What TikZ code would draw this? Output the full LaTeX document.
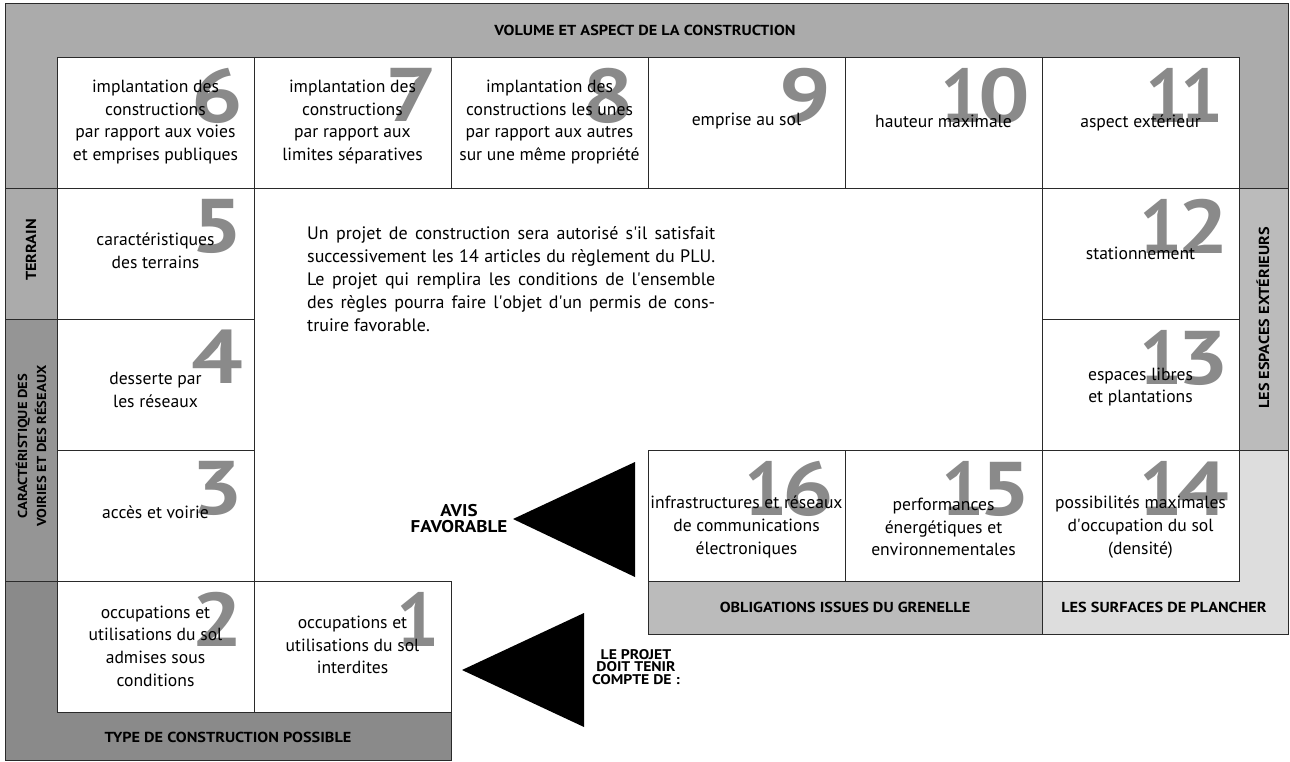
\documentclass[tikz,border=0pt]{standalone}
\usepackage{fontspec}
\setmainfont{PT Sans}
\newfontfamily\hdrfont[FakeStretch=1.12]{PT Sans}
\definecolor{gA}{HTML}{ABABAB}
\definecolor{gB}{HTML}{959595}
\definecolor{gC}{HTML}{8A8A8A}
\definecolor{gD}{HTML}{BBBBBB}
\definecolor{gE}{HTML}{DDDDDD}
\definecolor{numc}{HTML}{8A8A8A}
\definecolor{lnc}{HTML}{2A2A2A}
\newcommand{\bignum}[1]{\scalebox{1.2}[1]{#1}}
\newcommand{\twonum}[1]{1\kern-5pt\scalebox{1.2}[1]{#1}}
\begin{document}
\begin{tikzpicture}[x=1pt,y=-1pt,
  frame/.style={draw=lnc, line width=1pt, anchor=north west, inner sep=0pt},
  cell/.style={draw=lnc, line width=1pt, fill=white, anchor=north west, inner sep=0pt, minimum width=197pt, minimum height=131pt},
  numb/.style={anchor=north east, inner sep=0pt, text=numc, font=\bfseries\fontsize{76}{76}\selectfont},
  txt/.style={align=center, inner sep=0pt, font=\fontsize{17.6}{22.7}\selectfont},
  hdr/.style={align=center, inner sep=0pt, font=\hdrfont\bfseries\fontsize{14.5}{20}\selectfont},
]
\useasboundingbox (0,0) rectangle (1290,762);
% grey frames
\node[frame, fill=gA, minimum width=1283pt, minimum height=185pt] (fvol) at (5,3) {};
\node[frame, fill=gA, minimum width=52pt, minimum height=131pt] (fter) at (5,188) {};
\node[frame, fill=gB, minimum width=52pt, minimum height=262pt] (fvoi) at (5,319) {};
\node[frame, fill=gC, minimum width=446pt, minimum height=179pt] (ftyp) at (5,581) {};
\node[frame, fill=gD, minimum width=49pt, minimum height=262pt] (fesp) at (1239,188) {};
\node[frame, fill=gE, minimum width=246pt, minimum height=184pt] (fsur) at (1042,450) {};
\node[frame, fill=gD, minimum width=394pt, minimum height=184pt] (fgre) at (648,450) {};
% header texts
\node[hdr] (hvol) at (645,30) {VOLUME ET ASPECT DE LA CONSTRUCTION};
\node[hdr, rotate=90] (hter) at (31,250) {TERRAIN};
\node[hdr, rotate=90, font=\hdrfont\bfseries\fontsize{13}{19}\selectfont] (hvoi) at (31,446) {CARACTÉRISTIQUE DES\\VOIRIES ET DES RÉSEAUX};
\node[hdr, rotate=90] (hesp) at (1263,318) {LES ESPACES EXTÉRIEURS};
\node[hdr] (hgre) at (845,607) {OBLIGATIONS ISSUES DU GRENELLE};
\node[hdr] (hsur) at (1164,607) {LES SURFACES DE PLANCHER};
\node[hdr] (htyp) at (228,737) {TYPE DE CONSTRUCTION POSSIBLE};
% cells
\node[cell] (c6) at (57,57) {};
\node[cell] (c7) at (254,57) {};
\node[cell] (c8) at (451,57) {};
\node[cell] (c9) at (648,57) {};
\node[cell] (c10) at (845,57) {};
\node[cell] (c11) at (1042,57) {};
\node[cell] (c5) at (57,188) {};
\node[cell] (c4) at (57,319) {};
\node[cell] (c3) at (57,450) {};
\node[cell] (c12) at (1042,188) {};
\node[cell] (c13) at (1042,319) {};
\node[cell] (c14) at (1042,450) {};
\node[cell] (c16) at (648,450) {};
\node[cell] (c15) at (845,450) {};
\node[cell] (c2) at (57,581) {};
\node[cell] (c1) at (254,581) {};
% numbers
\node[numb] (n6) at (243,68) {\bignum{6}};
\node[numb] (n7) at (437,68) {\bignum{7}};
\node[numb] (n8) at (634,68) {\bignum{8}};
\node[numb] (n9) at (831,68) {\bignum{9}};
\node[numb] (n10) at (1030,68) {\twonum{0}};
\node[numb] (n11) at (1224,68) {1\kern-8pt 1};
\node[numb] (n5) at (243,199) {\bignum{5}};
\node[numb] (n4) at (243,330) {\bignum{4}};
\node[numb] (n3) at (243,461) {\bignum{3}};
\node[numb] (n12) at (1229,199) {\twonum{2}};
\node[numb] (n13) at (1229,330) {\twonum{3}};
\node[numb] (n14) at (1229,461) {\twonum{4}};
\node[numb] (n16) at (834,461) {\twonum{6}};
\node[numb] (n15) at (1031,461) {\twonum{5}};
\node[numb] (n2) at (243,592) {\bignum{2}};
\node[numb] (n1) at (440,592) {1};
% cell texts
\node[txt] (t6) at (155.5,122) {implantation des\\constructions\\par rapport aux voies\\et emprises publiques};
\node[txt] (t7) at (352.5,122) {implantation des\\constructions\\par rapport aux\\limites séparatives};
\node[txt] (t8) at (549.5,122) {implantation des\\constructions les unes\\par rapport aux autres\\sur une même propriété};
\node[txt] (t9) at (746.5,121) {emprise au sol};
\node[txt] (t10) at (943.5,121) {hauteur maximale};
\node[txt] (t11) at (1140.5,123) {aspect extérieur};
\node[txt] (t5) at (155.5,251) {caractéristiques\\des terrains};
\node[txt] (t4) at (155.5,390) {desserte par\\les réseaux};
\node[txt] (t3) at (155.5,512) {accès et voirie};
\node[txt] (t12) at (1140.5,253) {stationnement};
\node[txt] (t13) at (1140.5,387) {espaces libres\\et plantations};
\node[txt] (t14) at (1140.5,527) {possibilités maximales\\d\textquotesingle occupation du sol\\(densité)};
\node[txt] (t16) at (746.5,527) {infrastructures et réseaux\\de communications\\électroniques};
\node[txt] (t15) at (943.5,527) {performances\\énergétiques et\\environnementales};
\node[txt] (t2) at (155.5,646) {occupations et\\utilisations du sol\\admises sous\\conditions};
\node[txt] (t1) at (352.5,645) {occupations et\\utilisations du sol\\interdites};
% paragraph
\node[txt, align=left, anchor=north west, font=\fontsize{18}{23}\selectfont] (para) at (307,226) {%
\makebox[408pt][s]{Un projet de construction sera autorisé s\textquotesingle il satisfait}\\
\makebox[408pt][s]{successivement les 14 articles du règlement du PLU.}\\
\makebox[408pt][s]{Le projet qui remplira les conditions de l\textquotesingle ensemble}\\
\makebox[408pt][s]{des règles pourra faire l\textquotesingle objet d\textquotesingle un permis de cons-}\\
truire favorable.};
% triangles
\coordinate (a1) at (513,519);
\coordinate (a2) at (635,462);
\coordinate (a3) at (635,577);
\fill[black] (a1) -- (a2) -- (a3) -- cycle;
\coordinate (b1) at (462,670);
\coordinate (b2) at (584,613);
\coordinate (b3) at (584,727);
\fill[black] (b1) -- (b2) -- (b3) -- cycle;
\node[hdr, font=\hdrfont\bfseries\fontsize{17}{16}\selectfont] (avis) at (459,519) {AVIS\\FAVORABLE};
\node[hdr, font=\hdrfont\bfseries\fontsize{14}{12.5}\selectfont] (projet) at (636,667) {LE PROJET\\DOIT TENIR\\COMPTE DE :};
\end{tikzpicture}
\end{document}
